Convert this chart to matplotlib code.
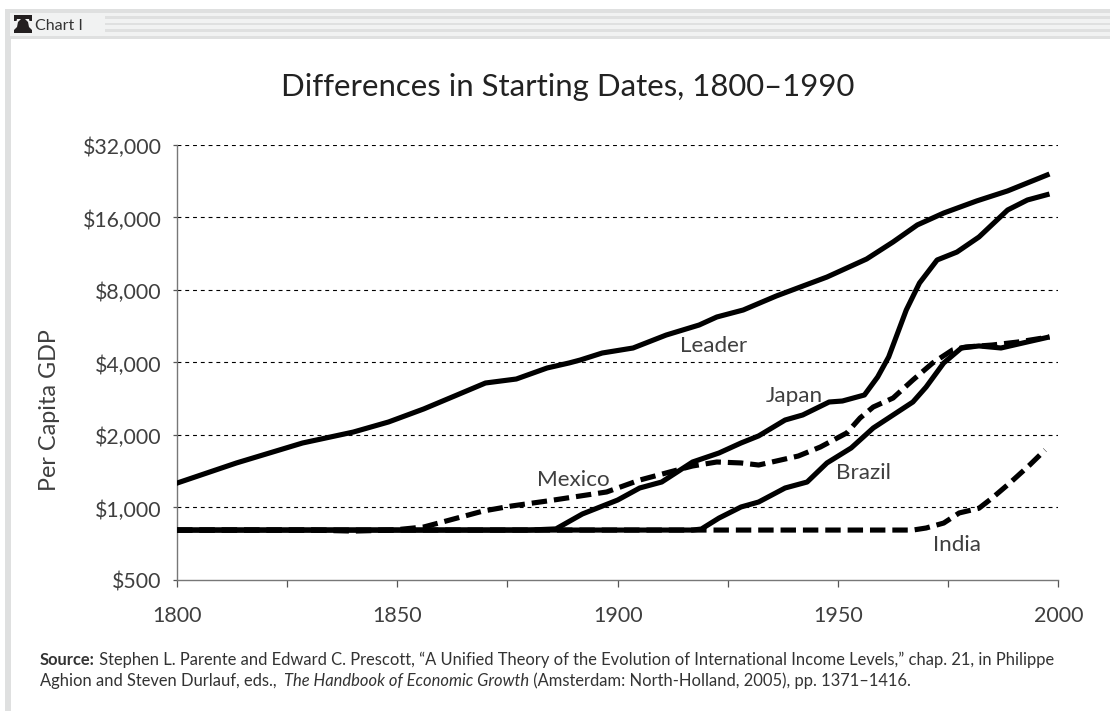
import matplotlib
matplotlib.use("Agg")
import matplotlib.pyplot as plt
from matplotlib.patches import Rectangle, Polygon
from matplotlib.ticker import FixedLocator, NullFormatter
from matplotlib.transforms import ScaledTranslation

plt.rcParams['font.family'] = ['Lato', 'DejaVu Sans']

TITLE = "Differences in Starting Dates, 1800–1990"
YLABEL = "Per Capita GDP"
YTICKS = [500, 1000, 2000, 4000, 8000, 16000, 32000]
YTICKLABELS = ["$500", "$1,000", "$2,000", "$4,000", "$8,000", "$16,000", "$32,000"]
XMAJOR = [1800, 1850, 1900, 1950, 2000]
XMINOR = [1825, 1875, 1925, 1975]

leader_x = [1799,1813.5,1828.5,1840,1848,1856,1863,1870,1877,1884,1889,1891.5,1896.5,1903.5,1911,1918.5,1922.5,1928.5,1936,1947.5,1956.5,1962.5,1968,1974,1981.5,1988.5,1998]
leader_y = [1245,1531,1853,2057,2265,2566,2904,3288,3416,3796,3983,4096,4380,4595,5200,5725,6180,6608,7555,9056,10760,12660,14900,16700,18750,20630,24250]

japan_x = [1800,1880,1886,1892,1900,1905,1910,1917,1923,1928,1932,1938,1942,1948,1951,1956,1959,1961.5,1965.5,1968.5,1972.5,1977,1982,1988.5,1993,1998]
japan_y = [806,806,815,940,1074,1205,1276,1545,1684,1853,1983,2308,2422,2742,2768,2932,3482,4216,6608,8552,10660,11500,13280,17190,18920,20030]

brazil_x = [1799,1917,1919,1923,1928,1932,1938,1943,1947.5,1953,1958,1967,1970,1974,1978,1982,1987,1993,1998]
brazil_y = [806,806,814,904,1005,1054,1205,1276,1531,1767,2138,2742,3164,3983,4595,4686,4595,4870,5108]

mexico_x = [1800,1830,1840,1849,1856,1862,1869.5,1876,1884,1897.5,1905,1913.5,1917,1922.5,1928,1932,1941,1946,1952,1955,1958,1962.5,1967,1971.5,1976,1979,1985,1991,1998]
mexico_y = [806,806,798,806,830,888,967,1015,1064,1160,1300,1431,1487,1545,1531,1501,1636,1783,2040,2352,2614,2848,3384,3983,4510,4640,4728,4870,5108]

india_x = [1800,1967,1970,1974,1977.5,1982,1985,1989,1993.5,1997]
india_y = [806,806,822,862,949,993,1095,1264,1501,1733]

W, H = 1110, 711
fig = plt.figure(figsize=(W/100, H/100), dpi=100, facecolor='white')
ax = fig.add_axes([177/W, 1-580/H, (1058.3-177)/W, (580-145)/H])
ax.set_yscale('log', base=2)
ax.set_xlim(1800, 2000)
ax.set_ylim(500, 32000)
ax.patch.set_alpha(0)

ax.yaxis.set_major_locator(FixedLocator(YTICKS))
ax.set_yticklabels(YTICKLABELS, va='center')
ax.yaxis.set_minor_locator(FixedLocator([]))
ax.yaxis.set_minor_formatter(NullFormatter())
ax.set_xticks(XMAJOR)
ax.set_xticks(XMINOR, minor=True)
ax.set_xticklabels([str(v) for v in XMAJOR])

TXT = '#3f3f3f'
ax.tick_params(axis='x', which='both', length=5, width=0.9, color='#555555', labelsize=15.5, labelcolor=TXT, pad=14, direction='out')
ax.tick_params(axis='y', length=3, width=0.9, color='#555555', labelsize=15.3, labelcolor=TXT, pad=8, direction='out')
shift = ScaledTranslation(0, -3/100, fig.dpi_scale_trans)
for lab in ax.get_yticklabels():
    lab.set_transform(lab.get_transform() + shift)
for s in ('top', 'right'):
    ax.spines[s].set_visible(False)
for s in ('left', 'bottom'):
    ax.spines[s].set_color('#777777')
    ax.spines[s].set_linewidth(1.0)

for v in YTICKS[1:]:
    ax.axhline(v, color='black', lw=0.8, dashes=(3.5, 3.5), zorder=1)

LW = 3.7
DASH = (3.0, 1.35)
ax.plot(india_x, india_y, color='black', lw=LW, dashes=DASH, dash_capstyle='butt', zorder=3)
ax.plot(mexico_x, mexico_y, color='black', lw=LW, dashes=DASH, dash_capstyle='butt', zorder=3)
for xs, ys in ((brazil_x, brazil_y), (japan_x, japan_y), (leader_x, leader_y)):
    ax.plot(xs, ys, color='black', lw=LW, solid_capstyle='butt', solid_joinstyle='round', zorder=4)

def ftxt(px, py, s, **kw):
    return fig.text(px/W, 1-py/H, s, **kw)

for px, py, s in ((714, 346, "Leader"), (794, 396, "Japan"), (573, 480, "Mexico"), (864, 473, "Brazil"), (957, 545, "India")):
    ftxt(px, py, s, fontsize=16.2, color=TXT, ha='center', va='center', zorder=6)

ftxt(568, 87, TITLE, fontsize=22.4, color='#222222', ha='center', va='center')
ftxt(50, 410, YLABEL, fontsize=16.8, color=TXT, ha='center', va='center', rotation=90)

# frame and header band
GR = '#dfe0e0'
def rect(x0, y0, x1, y1, c):
    fig.patches.append(Rectangle((x0/W, 1-y1/H), (x1-x0)/W, (y1-y0)/H, transform=fig.transFigure, facecolor=c, edgecolor='none', zorder=-5))
rect(5, 9, W, 39, GR)
rect(5, 9, 11, H, GR)
rect(10, 13, W, 36, '#f1f2f2')
rect(105, 16, W, 19, GR)
rect(105, 23, W, 25, GR)
rect(105, 29, W, 32, GR)
bell = [(14, 33), (32, 33), (32, 30), (29, 27), (28, 22), (25, 19), (21, 19), (18, 22), (17, 27), (14, 30)]
fig.patches.append(Polygon([(x/W, 1-y/H) for x, y in bell], closed=True, transform=fig.transFigure, facecolor='#231f20', edgecolor='none'))
top = [(14, 15), (32, 15), (32, 21), (29.5, 21), (29, 19), (17, 19), (16.5, 21), (14, 21)]
fig.patches.append(Polygon([(x/W, 1-y/H) for x, y in top], closed=True, transform=fig.transFigure, facecolor='#231f20', edgecolor='none'))
ftxt(35, 25.5, "Chart I", fontsize=11.5, color='#333333', ha='left', va='center')

# source note
SC = '#333333'
r = fig.canvas.get_renderer()
def run(px, py, parts):
    x = px
    for s, kw in parts:
        t = ftxt(x, py, s, fontsize=11.9, color=SC, ha='left', va='baseline', **kw)
        x = t.get_window_extent(r).x1 + (3 if s.endswith(' ') else 0)

run(40, 665, [("Source:", dict(fontweight='bold')), (" Stephen L. Parente and Edward C. Prescott, “A Unified Theory of the Evolution of International Income Levels,” chap. 21, in Philippe", {})])
run(40, 686, [("Aghion and Steven Durlauf, eds., ", {}), ("The Handbook of Economic Growth", dict(fontstyle='italic')), (" (Amsterdam: North-Holland, 2005), pp. 1371–1416.", {})])

fig.savefig("out.png", dpi=100)
